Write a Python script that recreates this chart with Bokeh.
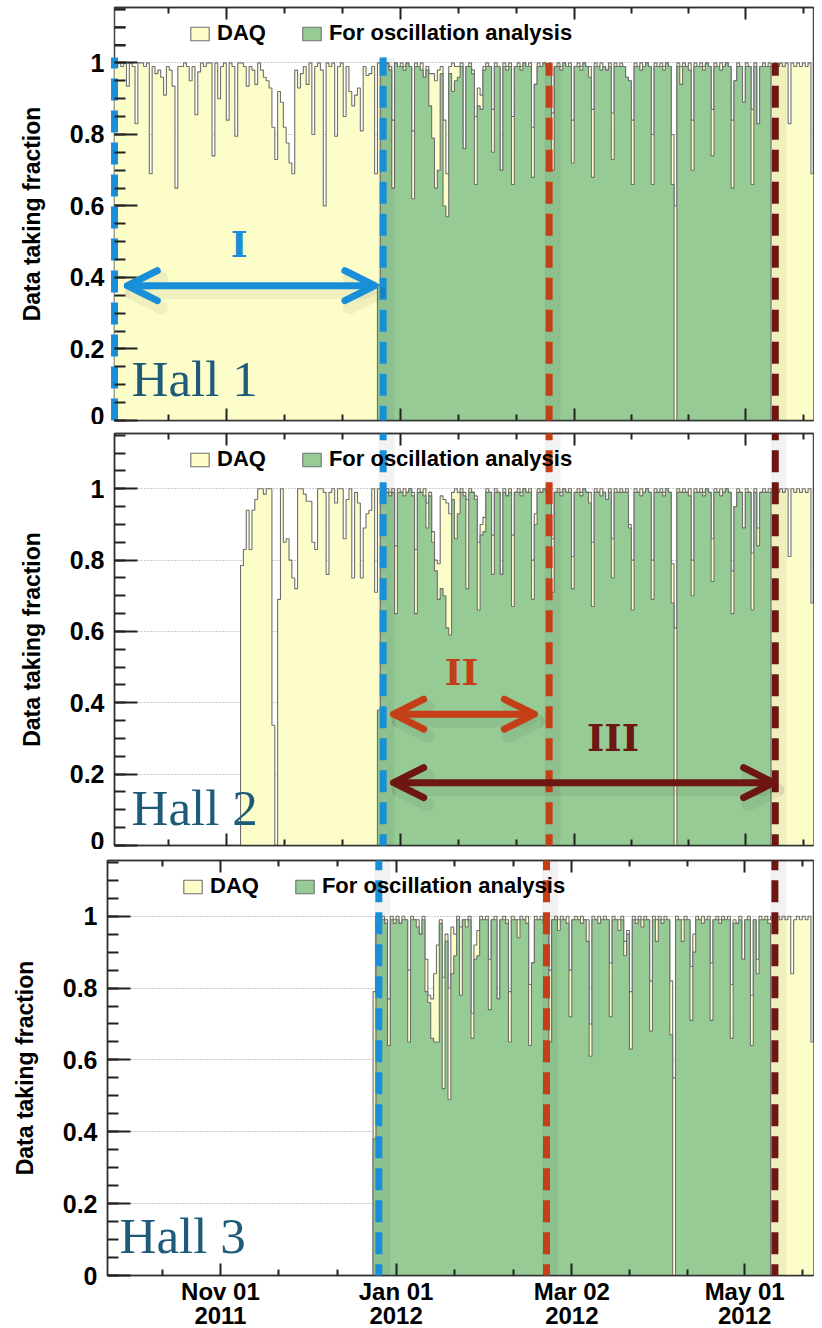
import numpy as np
from bokeh.plotting import figure
from bokeh.models import (Range1d, LinearAxis, FixedTicker, CustomJSTickFormatter,
                          Legend, LegendItem, Label, Arrow, OpenHead)
from bokeh.layouts import column, row
from bokeh.embed import file_html
from bokeh.resources import INLINE

# ---------------- data (x = days since 2011-11-01, one bin per day) ----------------
tick_days = [0, 61, 122, 182]
tick_labels = ["Nov 01\n2011", "Jan 01\n2012", "Mar 02\n2012", "May 01\n2012"]
y_ticks = [0, 0.2, 0.4, 0.6, 0.8, 1]
series_names = ["DAQ", "For oscillation analysis"]
hall_names = ["Hall 1", "Hall 2", "Hall 3"]

h1_daq_first_day = -40
h1_daq = [
    1.0, 0.99, 1.0, 0.99, 1.0, 0.935, 1.0, 0.99, 0.83, 1.0,
    1.0, 0.99, 1.0, 0.69, 0.99, 0.97, 0.98, 0.96, 0.91, 0.99,
    0.98, 0.935, 0.65, 0.99, 0.99, 1.0, 0.99, 0.95, 0.99, 0.855,
    0.975, 1.0, 0.99, 1.0, 1.0, 0.74, 1.0, 0.90, 0.99, 1.0,
    0.84, 1.0, 0.99, 0.795, 1.0, 1.0, 0.99, 0.935, 0.99, 0.98,
    0.94, 1.0, 0.98, 0.96, 0.95, 0.93, 0.82, 0.73, 0.92, 0.89,
    0.82, 0.776, 0.72, 0.69, 0.98, 0.93, 0.97, 0.99, 0.94, 1.0,
    0.80, 0.99, 1.0, 0.98, 0.60, 1.0, 0.99, 1.0, 0.795, 0.99,
    1.0, 0.85, 0.99, 0.92, 0.88, 0.91, 0.93, 0.81, 0.99, 0.965,
    0.97, 0.99, 0.69,
    1.0, 1.0, 0.99, 1.0, 0.99, 0.84, 1.0, 0.99, 1.0, 0.99,
    1.0, 0.99, 0.81, 1.0, 0.99, 1.0, 0.96, 0.99, 0.97, 0.97,
    0.95, 0.98, 0.99, 0.84, 0.69, 0.99, 1.0, 0.99, 0.99, 1.0,
    0.76, 0.99, 1.0, 0.98, 0.85, 0.93, 0.91, 0.99, 1.0, 0.99,
    0.87, 1.0, 0.99, 0.70, 1.0, 0.99, 1.0, 0.85, 0.99, 1.0,
    0.99, 1.0, 0.99, 1.0, 0.82, 0.94, 1.0, 0.99, 1.0, 0.99,
    1.0, 0.86, 0.99, 1.0, 0.99, 1.0, 0.99, 1.0, 0.84, 0.99,
    1.0, 0.99, 1.0, 0.99, 0.99, 0.87, 1.0, 0.99, 1.0, 0.99,
    0.98, 1.0, 0.86, 1.0, 0.99, 1.0, 0.99, 0.96, 0.95, 0.84,
    1.0, 0.99, 1.0, 0.99, 1.0, 0.99, 0.80, 1.0, 0.99, 1.0,
    0.99, 1.0, 0.99, 0.80, 0.60, 1.0, 0.99, 1.0, 0.99, 1.0,
    0.84, 1.0, 0.99, 1.0, 0.99, 1.0, 0.99, 0.87, 1.0, 0.99,
    1.0, 0.99, 1.0, 0.99, 0.84, 0.95, 1.0, 0.99, 0.89, 1.0,
    0.99, 0.87, 1.0, 0.83, 0.99, 1.0, 0.99, 1.0, 0.99, 1.0,
    0.99, 1.0, 0.99, 1.0, 0.83, 1.0, 0.99, 1.0, 0.99, 1.0,
    0.99, 1.0, 0.69,
]
h2_daq_first_day = 5
h2_daq = [
    0.785, 0.83, 0.94, 0.83, 0.94, 0.97, 1.0, 1.0, 0.985,
    1.0, 1.0, 0.337, 0.0, 0.69, 1.0, 0.85, 0.86, 0.80, 0.75,
    0.72, 1.0, 1.0, 0.985, 0.965, 0.965, 0.85, 0.83, 1.0, 1.0,
    0.99, 0.76, 0.99, 1.0, 0.96, 1.0, 1.0, 0.86, 0.97, 1.0,
    0.75, 0.99, 0.96, 0.75, 0.89, 0.93, 0.94, 1.0, 0.71,
    1.0, 1.0, 0.99, 1.0, 0.99, 1.0, 0.84, 1.0, 0.99, 1.0,
    0.99, 1.0, 0.99, 0.83, 1.0, 0.99, 1.0, 0.96, 0.99, 0.88,
    0.80, 0.79, 0.98, 0.97, 0.96, 0.93, 0.99, 1.0, 0.99, 1.0,
    0.99, 0.97, 1.0, 0.99, 0.98, 0.85, 0.90, 0.92, 1.0, 0.99,
    0.87, 1.0, 0.99, 0.76, 1.0, 0.98, 1.0, 0.87, 0.99, 1.0,
    0.99, 1.0, 0.99, 1.0, 0.80, 0.93, 1.0, 0.99, 1.0, 0.99,
    1.0, 0.86, 0.99, 1.0, 0.99, 1.0, 0.99, 1.0, 0.81, 0.99,
    1.0, 0.99, 1.0, 0.99, 0.99, 0.85, 1.0, 0.99, 1.0, 0.99,
    0.97, 1.0, 0.86, 1.0, 0.99, 1.0, 0.99, 1.0, 0.90, 0.80,
    1.0, 0.99, 1.0, 0.99, 1.0, 0.99, 0.80, 1.0, 0.99, 1.0,
    0.99, 1.0, 0.99, 0.79, 0.61, 1.0, 0.99, 1.0, 0.99, 1.0,
    0.80, 1.0, 0.99, 1.0, 0.99, 1.0, 0.99, 0.86, 1.0, 0.99,
    1.0, 0.99, 1.0, 0.99, 0.77, 0.95, 1.0, 0.99, 0.89, 1.0,
    0.99, 0.82, 1.0, 0.89, 0.99, 1.0, 0.99, 1.0, 0.99, 1.0,
    0.99, 1.0, 0.99, 1.0, 0.81, 1.0, 0.99, 1.0, 0.99, 1.0,
    0.99, 1.0, 0.68,
]
h3_daq_first_day = 53
h3_daq = [
    0.79, 1.0, 0.99, 1.0, 0.99, 0.77, 1.0, 0.99, 1.0, 0.98,
    1.0, 0.99, 0.85, 1.0, 0.99, 0.99, 0.95, 1.0, 0.88, 0.78,
    0.77, 0.84, 0.92, 0.99, 0.83, 0.95, 0.80, 0.97, 0.95, 1.0,
    0.97, 0.99, 0.99, 1.0, 0.73, 0.92, 0.96, 1.0, 0.99, 1.0,
    0.88, 0.99, 1.0, 0.77, 0.99, 1.0, 0.99, 0.79, 1.0, 0.99,
    0.99, 1.0, 0.99, 1.0, 0.81, 0.87, 1.0, 0.99, 1.0, 0.99,
    1.0, 0.85, 0.99, 1.0, 0.99, 1.0, 0.99, 1.0, 0.85, 0.99,
    1.0, 0.99, 1.0, 0.99, 0.99, 0.70, 1.0, 0.99, 1.0, 0.99,
    1.0, 0.99, 0.87, 1.0, 0.99, 0.99, 1.0, 0.93, 0.96, 0.79,
    1.0, 0.99, 1.0, 0.99, 1.0, 0.99, 0.82, 1.0, 0.99, 1.0,
    0.99, 1.0, 0.99, 0.82, 0.55, 1.0, 0.99, 0.99, 1.0, 0.99,
    0.86, 0.95, 1.0, 0.99, 1.0, 0.99, 1.0, 0.87, 0.99, 1.0,
    0.99, 1.0, 0.99, 1.0, 0.81, 0.99, 0.98, 1.0, 0.88, 0.99,
    1.0, 0.78, 0.99, 0.88, 1.0, 0.99, 1.0, 0.99, 1.0, 0.99,
    1.0, 0.99, 1.0, 0.99, 1.0, 0.84, 0.99, 1.0, 0.99, 1.0,
    0.99, 1.0, 0.65,
]

osc_first_day = 53
h1_osc = [
    0.38, 1.0, 0.99, 1.0, 0.98, 0.65, 1.0, 0.99, 0.99, 0.98,
    1.0, 0.99, 0.62, 0.99, 0.99, 0.98, 0.96, 0.98, 0.88, 0.79,
    0.65, 0.70, 0.97, 0.60, 0.57, 0.97, 0.92, 0.95, 0.96, 0.99,
    0.76, 0.99, 0.99, 0.97, 0.66, 0.88, 0.87, 0.98, 0.99, 0.99,
    0.75, 0.99, 0.99, 0.70, 0.99, 0.98, 0.99, 0.66, 0.99, 0.99,
    0.98, 1.0, 0.99, 0.99, 0.68, 0.94, 0.99, 0.99, 1.0, 0.99,
    0.99, 0.70, 0.99, 0.99, 0.98, 1.0, 0.99, 0.99, 0.72, 0.99,
    0.99, 0.98, 1.0, 0.99, 0.96, 0.68, 0.99, 0.99, 0.98, 0.99,
    0.98, 0.99, 0.73, 0.99, 0.99, 0.99, 0.99, 0.96, 0.95, 0.66,
    0.99, 0.99, 0.98, 0.99, 1.0, 0.99, 0.66, 0.99, 0.99, 0.99,
    0.98, 1.0, 0.99, 0.66, 0.0, 0.99, 0.94, 0.99, 0.99, 0.98,
    0.70, 0.99, 0.99, 0.99, 0.98, 1.0, 0.99, 0.74, 0.99, 0.99,
    0.98, 0.99, 1.0, 0.99, 0.65, 0.95, 0.99, 0.99, 0.89, 0.99,
    0.99, 0.66, 0.99, 0.83, 0.99, 0.99, 0.99, 0.99,
]
h2_osc = [
    0.38, 1.0, 0.99, 0.99, 0.98, 0.99, 0.65, 0.99, 0.99, 0.98,
    0.99, 1.0, 0.98, 0.65, 0.99, 0.99, 0.98, 0.89, 0.98, 0.85,
    0.77, 0.69, 0.72, 0.70, 0.61, 0.59, 0.97, 0.86, 0.93, 0.99,
    0.98, 0.72, 0.99, 0.99, 0.97, 0.66, 0.87, 0.88, 0.99, 0.99,
    0.76, 0.99, 0.99, 0.76, 0.99, 0.98, 0.99, 0.67, 0.99, 0.99,
    0.98, 1.0, 0.99, 0.99, 0.69, 0.90, 0.99, 0.99, 1.0, 0.99,
    0.99, 0.71, 0.99, 0.99, 0.98, 1.0, 0.99, 0.99, 0.72, 0.99,
    0.99, 0.98, 1.0, 0.99, 0.96, 0.67, 0.99, 0.99, 0.98, 0.99,
    0.97, 0.99, 0.75, 0.99, 0.99, 0.99, 0.99, 0.99, 0.89, 0.66,
    0.99, 0.99, 0.98, 0.99, 1.0, 0.99, 0.69, 0.99, 0.99, 0.99,
    0.98, 1.0, 0.99, 0.68, 0.0, 0.99, 0.99, 0.99, 0.99, 0.98,
    0.70, 0.99, 0.99, 0.99, 0.98, 1.0, 0.99, 0.74, 0.99, 0.99,
    0.98, 0.99, 1.0, 0.99, 0.65, 0.95, 0.99, 0.99, 0.89, 0.99,
    0.99, 0.66, 0.99, 0.84, 0.99, 0.99, 0.99, 0.99,
]
h3_osc = [
    0.38, 1.0, 0.99, 0.99, 0.98, 0.64, 0.99, 0.98, 0.99, 0.98,
    0.99, 0.99, 0.65, 0.99, 0.99, 0.97, 0.95, 0.99, 0.79, 0.76,
    0.66, 0.65, 0.65, 0.98, 0.52, 0.93, 0.49, 0.84, 0.89, 0.99,
    0.78, 0.99, 0.97, 0.99, 0.66, 0.88, 0.89, 0.99, 0.99, 0.99,
    0.74, 0.99, 0.99, 0.77, 0.99, 0.99, 0.98, 0.65, 0.99, 0.99,
    0.94, 0.99, 0.99, 0.98, 0.64, 0.87, 0.99, 0.99, 0.99, 0.98,
    0.99, 0.65, 0.99, 0.99, 0.96, 0.99, 0.99, 0.98, 0.72, 0.99,
    0.99, 0.99, 0.98, 0.99, 0.93, 0.61, 0.99, 0.99, 0.98, 0.99,
    0.99, 0.99, 0.72, 0.99, 0.99, 0.96, 0.99, 0.89, 0.95, 0.63,
    0.99, 0.98, 0.99, 0.97, 0.99, 0.99, 0.68, 0.99, 0.93, 0.99,
    0.98, 0.99, 0.99, 0.67, 0.0, 0.99, 0.99, 0.93, 0.99, 0.99,
    0.71, 0.90, 0.99, 0.99, 0.98, 0.99, 0.99, 0.71, 0.99, 0.99,
    0.98, 0.99, 0.99, 0.99, 0.66, 0.98, 0.98, 0.99, 0.88, 0.99,
    0.99, 0.64, 0.99, 0.84, 0.99, 0.99, 0.99, 0.98,
]

# data-taking period boundaries (days since 2011-11-01)
period_bounds = {"I_end": 55.0, "II_end": 113.2, "III_end": 192.5}

# ---------------- styling ----------------
X_RANGE = (-39.2, 205.9)
Y_MAX = 1.155
YELLOW = "#fdfdca"
GREEN = "#96cb96"
EDGE = "#6f6f6f"
BLUE = "#1a8fd9"
ORANGE = "#c43f17"
DARKRED = "#6e1612"
HALLCOL = "#1d5b79"
SANS = "Liberation Sans"
Y_MINOR = list(np.arange(0, Y_MAX, 0.05))


def step_polygon(first_day, vals):
    v = np.asarray(vals, dtype=float)
    edges = first_day + np.arange(len(v) + 1)
    xs = np.repeat(edges, 2)
    ys = np.concatenate([[0.0], np.repeat(v, 2), [0.0]])
    return xs, ys


def x_minor(ticks):
    t = np.asarray(ticks, dtype=float)
    step = np.mean(np.diff(t))
    out = [t[0] - step / 3, t[0] - 2 * step / 3]
    for a, b in zip(t[:-1], t[1:]):
        out += [a + (b - a) / 3, a + 2 * (b - a) / 3]
    out += [t[-1] + step / 3]
    return out


def vline(p, x, y0, y1, color):
    p.add_layout(Arrow(end=None, start=None, x_start=x + 1.2, x_end=x + 1.2, y_start=y0, y_end=y1,
                       line_color="black", line_alpha=0.05, line_width=16))
    p.add_layout(Arrow(end=None, start=None, x_start=x, x_end=x, y_start=y0, y_end=y1,
                       line_color=color, line_width=7, line_dash="22 10"))


def harrow(p, x0, x1, y, color):
    def head(c, a, w):
        return OpenHead(size=30, line_color=c, line_alpha=a, line_width=w,
                        line_cap="round", line_join="round")
    dy = 0.02
    p.add_layout(Arrow(start=head("black", 0.05, 13), end=head("black", 0.05, 13),
                       x_start=x0 + 1.5, x_end=x1 + 1.5, y_start=y - dy, y_end=y - dy,
                       line_color="black", line_alpha=0.05, line_width=13, line_cap="round"))
    p.add_layout(Arrow(start=head(color, 1.0, 7), end=head(color, 1.0, 7),
                       x_start=x0, x_end=x1, y_start=y, y_end=y,
                       line_color=color, line_width=7, line_cap="round"))


def make_panel(daq_first, daq, osc, hall, hall_x, hall_y, border_left, frame_w, border_right,
               border_top, frame_h, border_bottom, show_dates):
    p = figure(x_range=Range1d(*X_RANGE), y_range=Range1d(0, Y_MAX),
               frame_width=frame_w, frame_height=frame_h,
               min_border_left=border_left, min_border_right=border_right,
               min_border_top=border_top, min_border_bottom=border_bottom,
               output_backend="svg", toolbar_location=None,
               background_fill_color="white", border_fill_color="white")
    p.outline_line_color = "#444444"
    p.outline_line_width = 1.5

    xs, ys = step_polygon(daq_first, daq)
    r_daq = p.patch(xs, ys, fill_color=YELLOW, line_color=EDGE, line_width=1.1)
    xs, ys = step_polygon(osc_first_day, osc)
    r_osc = p.patch(xs, ys, fill_color=GREEN, line_color=EDGE, line_width=1.1)

    p.xgrid.visible = False
    p.ygrid.ticker = FixedTicker(ticks=y_ticks[1:])
    p.ygrid.grid_line_color = "#9a9a9a"
    p.ygrid.grid_line_dash = "1 2"
    p.ygrid.grid_line_width = 1

    ya = p.yaxis[0]
    ya.ticker = FixedTicker(ticks=y_ticks, minor_ticks=Y_MINOR)
    ya.formatter = CustomJSTickFormatter(code="return tick.toString();")
    ya.major_tick_in = 23
    ya.major_tick_out = 0
    ya.minor_tick_in = 11
    ya.minor_tick_out = 0
    ya.major_tick_line_width = 2
    ya.minor_tick_line_width = 2
    ya.major_tick_line_color = "#222222"
    ya.minor_tick_line_color = "#222222"
    ya.axis_line_color = "#333333"
    ya.axis_line_width = 1.5
    ya.major_label_text_font = SANS
    ya.major_label_text_font_style = "bold"
    ya.major_label_text_font_size = "25px"
    ya.major_label_text_color = "black"
    ya.major_label_standoff = 10
    ya.axis_label = "Data taking fraction"
    ya.axis_label_text_font = SANS
    ya.axis_label_text_font_style = "bold"
    ya.axis_label_text_font_size = "23px"
    ya.axis_label_text_color = "black"
    ya.axis_label_standoff = 22

    top = LinearAxis()
    p.add_layout(top, "above")
    for ax in (p.below[0], top):
        ax.ticker = FixedTicker(ticks=tick_days, minor_ticks=x_minor(tick_days))
        ax.major_tick_in = 12
        ax.major_tick_out = 0
        ax.minor_tick_in = 6
        ax.minor_tick_out = 0
        ax.major_tick_line_width = 2
        ax.minor_tick_line_width = 2
        ax.major_tick_line_color = "#222222"
        ax.minor_tick_line_color = "#222222"
        ax.axis_line_color = "#333333"
        ax.axis_line_width = 1.5
    top.major_label_text_font_size = "0px"
    top.major_label_standoff = 0
    bx = p.below[0]
    if show_dates:
        bx.major_label_overrides = dict(zip(tick_days, tick_labels))
        bx.major_label_text_font = SANS
        bx.major_label_text_font_style = "bold"
        bx.major_label_text_font_size = "24px"
        bx.major_label_text_color = "black"
        bx.major_label_text_line_height = 0.9
        bx.major_label_standoff = 2
    else:
        bx.major_label_text_font_size = "0px"
        bx.major_label_standoff = 0

    legend = Legend(items=[LegendItem(label=series_names[0], renderers=[r_daq]),
                           LegendItem(label=series_names[1], renderers=[r_osc])],
                    orientation="horizontal", location=(74, frame_h - 20 - 19),
                    glyph_width=23, glyph_height=17, label_standoff=6, spacing=34,
                    padding=0, margin=0, border_line_alpha=0, background_fill_alpha=0,
                    label_text_font=SANS, label_text_font_style="bold",
                    label_text_font_size="22px", label_text_color="black",
                    label_height=17)
    p.add_layout(legend)

    p.add_layout(Label(x=hall_x, y=hall_y, text=hall, text_font="Liberation Serif",
                       text_font_size="51px", text_color=HALLCOL,
                       text_baseline="middle", text_align="left"))
    return p


p1 = make_panel(h1_daq_first_day, h1_daq, h1_osc, hall_names[0], -33.2, 0.115,
                114, 699, 1, 7, 413, 4, False)
p2 = make_panel(h2_daq_first_day, h2_daq, h2_osc, hall_names[1], -33.2, 0.106,
                114, 699, 1, 9, 412, 4, False)
p3 = make_panel(h3_daq_first_day, h3_daq, h3_osc, hall_names[2], -35.0, 0.111,
                107, 706, 1, 11, 415, 45, True)

# start of period I: the left frame edge of Hall 1 is drawn as the blue dashed marker,
# which stops at the 1.0 level; the minor ticks above it are redrawn inside the frame
ya1 = p1.yaxis[0]
ya1.axis_line_color = BLUE
ya1.axis_line_width = 7
ya1.axis_line_dash = "22 10"
ya1.bounds = (0, 1.015)
upper_minor = [t for t in Y_MINOR if t > 1.015]
tick_len_days = 11 * (X_RANGE[1] - X_RANGE[0]) / 699
p1.segment(x0=[X_RANGE[0]] * len(upper_minor), x1=[X_RANGE[0] + tick_len_days] * len(upper_minor),
           y0=upper_minor, y1=upper_minor, line_color="#222222", line_width=2)

pb = period_bounds
vline(p1, pb["I_end"], -0.02, 1.015, BLUE)
vline(p1, pb["II_end"], -0.02, 1.0, ORANGE)
vline(p1, pb["III_end"], -0.02, 1.0, DARKRED)
for p in (p2, p3):
    vline(p, pb["I_end"], -0.03, 1.2, BLUE)
    vline(p, pb["II_end"], -0.03, 1.2, ORANGE)
    vline(p, pb["III_end"], -0.03, 1.2, DARKRED)

harrow(p1, -34.7, 52.1, 0.377, BLUE)
p1.add_layout(Label(x=4.5, y=0.494, text="I", text_font="DejaVu Serif", text_font_style="bold",
                    text_font_size="36px", text_color=BLUE, text_align="center",
                    text_baseline="middle"))
harrow(p2, 58.7, 108.0, 0.368, ORANGE)
p2.add_layout(Label(x=82.5, y=0.487, text="II", text_font="DejaVu Serif", text_font_style="bold",
                    text_font_size="36px", text_color=ORANGE, text_align="center",
                    text_baseline="middle"))
harrow(p2, 58.7, 191.9, 0.176, DARKRED)
p2.add_layout(Label(x=135.6, y=0.302, text="III", text_font="DejaVu Serif", text_font_style="bold",
                    text_font_size="37px", text_color=DARKRED, text_align="center",
                    text_baseline="middle"))

layout = column(row(p1), row(p2), row(p3), spacing=0)
open("out.html", "w").write(file_html(layout, INLINE))
